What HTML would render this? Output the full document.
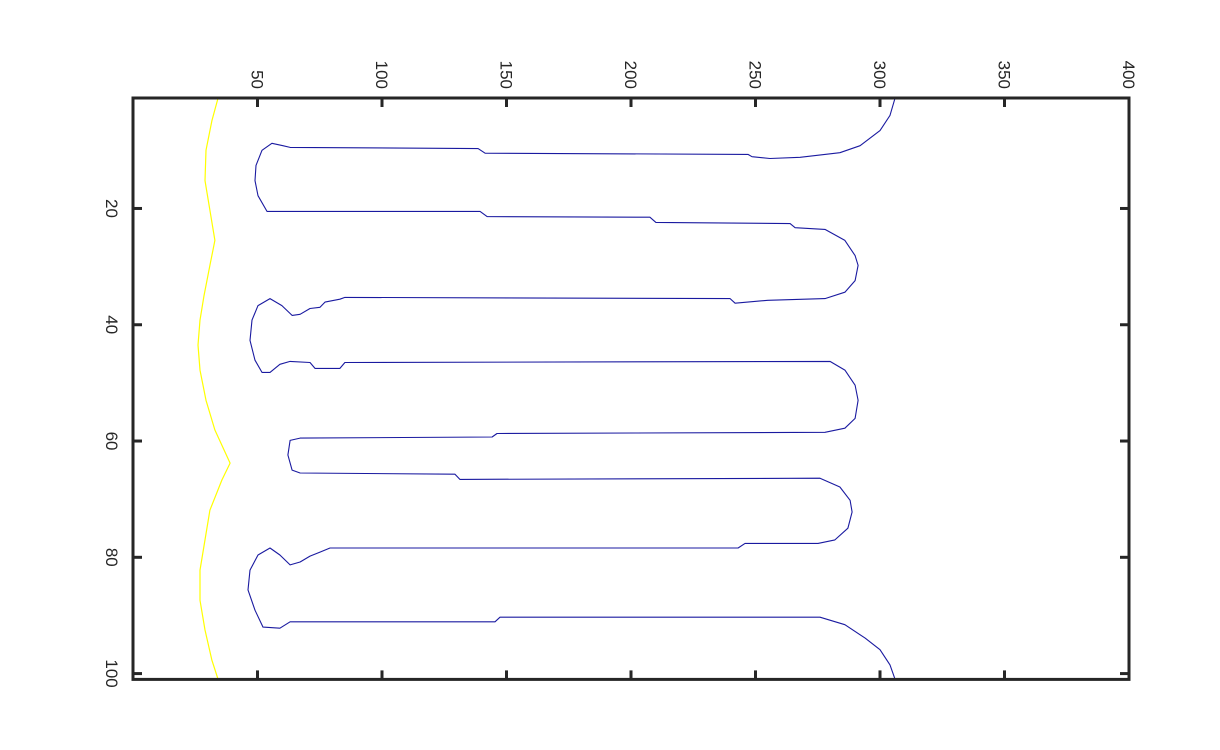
<!DOCTYPE html>
<html><head><meta charset="utf-8"><style>
html,body{margin:0;padding:0;background:#fff;width:1220px;height:750px;overflow:hidden}
svg text{font-family:"Liberation Sans",sans-serif;font-size:17px;fill:#262626}
</style></head><body>
<svg id="chart" width="1220" height="750" xmlns="http://www.w3.org/2000/svg">
<g id="plot"></g>
<g id="axes"></g>
</svg>
<script>
const colTicks=[50,100,150,200,250,300,350,400];
const rowTicks=[20,40,60,80,100];
const blueCols=[306.0,304.0,300.0,292.0,283.9,267.9,255.8,248.6,247.0,141.4,138.6,63.1,60.2,55.8,51.8,49.4,49.0,50.2,53.8,139.4,142.2,207.6,210.0,263.9,265.9,277.9,285.9,290.0,291.2,290.0,285.9,277.9,255.0,241.8,239.8,85.1,83.1,77.1,75.1,71.1,67.1,63.9,59.8,55.0,50.2,47.8,47.0,49.0,51.8,55.0,59.0,63.1,71.1,73.1,83.1,85.1,279.9,285.9,290.0,291.2,290.0,285.9,277.9,146.2,144.2,67.1,63.1,62.2,63.9,67.1,129.3,131.3,275.9,283.9,288.0,288.8,287.1,281.9,275.1,245.8,243.0,79.1,75.1,71.1,67.1,63.1,59.0,55.0,50.2,47.0,46.2,49.0,52.2,59.0,63.1,145.4,147.4,275.9,285.9,294.0,300.0,304.0,306.0];
const blueRows=[1.1,4.0,6.6,9.2,10.4,11.2,11.4,11.1,10.7,10.5,9.7,9.5,9.2,8.8,10.0,12.6,15.2,17.8,20.5,20.5,21.4,21.5,22.4,22.6,23.3,23.6,25.5,28.1,29.8,32.4,34.4,35.5,35.8,36.3,35.5,35.3,35.6,36.1,37.0,37.2,38.2,38.4,36.7,35.5,36.7,39.2,42.7,46.1,48.2,48.2,46.8,46.3,46.5,47.5,47.5,46.5,46.3,47.8,50.4,53.0,56.1,57.8,58.5,58.7,59.3,59.5,59.9,62.4,65.0,65.5,65.7,66.6,66.4,67.9,70.2,72.2,75.0,77.0,77.6,77.6,78.4,78.4,79.1,79.8,80.8,81.3,79.6,78.4,79.6,82.2,85.6,89.1,92.0,92.2,91.1,91.1,90.3,90.3,91.6,93.9,95.9,98.5,100.9];
const yellowCols=[34.1,31.7,29.3,28.9,30.9,32.9,30.9,28.5,26.9,26.1,26.9,29.3,32.9,39.0,35.7,30.9,28.9,26.9,26.9,28.9,31.7,34.1];
const yellowRows=[1.1,4.9,10.0,15.2,20.3,25.5,29.8,35.0,39.2,43.5,47.8,53.0,58.1,63.8,66.7,71.9,77.0,82.2,87.4,92.5,97.7,100.9];

const L=133,R=1129,T=98,B=679.4;
const colMin=0,colMax=400,rowMin=1,rowMax=101;
function xs(c){return L+(c-colMin)/(colMax-colMin)*(R-L);}
function ys(r){return T+(r-rowMin)/(rowMax-rowMin)*(B-T);}
const NS='http://www.w3.org/2000/svg';
const plot=document.getElementById('plot'),axes=document.getElementById('axes');
function mk(tag,attrs,parent){const e=document.createElementNS(NS,tag);for(const k in attrs)e.setAttribute(k,attrs[k]);parent.appendChild(e);return e;}
function line(cols,rows){return cols.map((c,i)=>xs(c).toFixed(1)+','+ys(rows[i]).toFixed(1)).join(' ');}
const y1=mk('polyline',{points:line(yellowCols,yellowRows),fill:'none',stroke:'#ffff00','stroke-width':1.2,'stroke-linejoin':'round'},plot);


const b1=mk('polyline',{points:line(blueCols,blueRows),fill:'none',stroke:'#1a1aa0','stroke-width':1.1,'stroke-linejoin':'round'},plot);


const box=mk('rect',{x:L,y:T,width:R-L,height:B-T,fill:'none',stroke:'#262626','stroke-width':3},axes);


colTicks.forEach(v=>{const x=xs(v);
 const t1=mk('line',{x1:x,x2:x,y1:T,y2:T+9,stroke:'#262626','stroke-width':3},axes);
 
 
 const t2=mk('line',{x1:x,x2:x,y1:B,y2:B-9,stroke:'#262626','stroke-width':3},axes);
 
 
 const tx=mk('text',{x:0,y:0,transform:`translate(${x-6},89) rotate(90)`,'text-anchor':'end'},axes);
 tx.textContent=v;
 
 
});
rowTicks.forEach(v=>{const y=ys(v);
 const t1=mk('line',{x1:L,x2:L+9,y1:y,y2:y,stroke:'#262626','stroke-width':3},axes);
 
 
 const t2=mk('line',{x1:R,x2:R-9,y1:y,y2:y,stroke:'#262626','stroke-width':3},axes);
 
 
 const tx=mk('text',{x:0,y:0,transform:`translate(106,${y}) rotate(90)`,'text-anchor':'middle'},axes);
 tx.textContent=v;
 
 
});
</script>
</body></html>
